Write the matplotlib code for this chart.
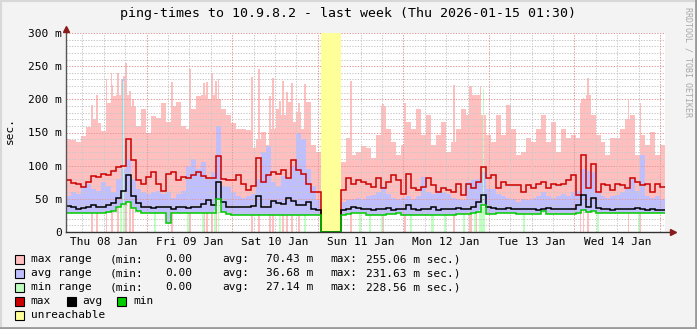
import numpy as np
import matplotlib
matplotlib.use("Agg")
import matplotlib.pyplot as plt
from matplotlib.patches import Rectangle
from matplotlib.lines import Line2D

plt.rcParams['font.family'] = ['DejaVu Sans Mono']

W, H = 697, 329

# one sample per 1.4 h, week starting Thu 08 Jan 01:30
red = [78, 74, 72, 68, 76, 85, 83, 88, 86, 92, 98, 100, 140, 108, 78, 73, 83, 91, 73, 62,
       88, 90, 78, 83, 81, 86, 91, 84, 82, 82,
       115, 80, 78, 78, 86, 73, 63, 70, 112, 76, 86, 91, 88, 93, 81, 108, 93, 88, 73, 61,
       61, 0, 0, 0, 0, 64, 81, 72, 78, 76,
       73, 68, 81, 66, 75, 86, 78, 58, 88, 66, 63, 68, 81, 71, 61, 66, 63, 61, 73, 56,
       73, 66, 76, 98, 81, 86, 66, 76, 71, 71,
       71, 61, 71, 66, 73, 76, 66, 73, 71, 73, 78, 86, 56, 116, 66, 103, 61, 73, 71, 63,
       73, 71, 66, 81, 76, 71, 73, 61, 73, 68]
black = [39, 37, 35, 36, 38, 40, 37, 38, 41, 44, 52, 62, 86, 55, 43, 38, 37, 36, 38, 37,
         38, 34, 37, 38, 36, 37, 38, 42, 48, 40,
         75, 45, 38, 37, 38, 38, 37, 39, 55, 38, 38, 47, 43, 42, 51, 46, 40, 40, 45, 34,
         33, 0, 0, 0, 0, 33, 35, 37, 36, 35,
         34, 33, 35, 34, 36, 33, 34, 35, 40, 34, 33, 34, 35, 37, 33, 34, 35, 34, 36, 34,
         35, 38, 45, 56, 38, 36, 35, 34, 36, 35,
         34, 34, 35, 34, 33, 34, 36, 35, 34, 35, 34, 35, 40, 56, 38, 52, 36, 34, 34, 33,
         34, 35, 34, 35, 36, 34, 33, 34, 33, 33]
green = [29, 29, 29, 29, 28, 29, 29, 29, 30, 31, 38, 42, 45, 36, 32, 29, 29, 28, 28, 28,
         14, 28, 28, 28, 28, 28, 28, 28, 28, 28,
         50, 30, 27, 26, 26, 26, 26, 26, 26, 26, 26, 26, 26, 26, 26, 26, 26, 26, 26, 26,
         26, 0, 0, 0, 0, 25, 27, 28, 28, 28,
         26, 26, 26, 26, 27, 27, 28, 26, 26, 26, 26, 26, 26, 26, 26, 26, 26, 26, 27, 27,
         27, 28, 30, 40, 27, 27, 28, 28, 28, 28,
         27, 27, 27, 27, 27, 31, 27, 27, 27, 27, 27, 27, 28, 33, 30, 32, 28, 28, 28, 28,
         28, 28, 28, 28, 28, 28, 28, 28, 28, 28]
avg_top = [55, 60, 58, 70, 72, 65, 62, 75, 70, 60, 80, 95, 110, 80, 65, 60, 58, 60, 62, 58,
           60, 52, 58, 62, 100, 110, 95, 105, 80, 90,
           160, 70, 68, 60, 55, 52, 54, 58, 80, 120, 130, 75, 70, 85, 82, 100, 150, 140, 95, 70,
           48, 0, 0, 0, 0, 45, 48, 50, 52, 50,
           55, 56, 60, 70, 58, 52, 50, 52, 55, 50, 55, 83, 60, 58, 62, 60, 58, 52, 50, 48,
           75, 78, 80, 90, 65, 65, 58, 55, 52, 50,
           45, 50, 48, 52, 55, 60, 55, 52, 55, 58, 55, 60, 62, 95, 92, 90, 60, 55, 52, 55,
           56, 60, 65, 80, 62, 116, 55, 52, 54, 50]
max_top = [140, 138, 135, 145, 158, 170, 165, 152, 195, 205, 206, 206, 206, 190, 160, 185, 150, 175, 172, 195,
           166, 190, 196, 160, 156, 186, 205, 206, 200, 206,
           200, 185, 176, 165, 156, 156, 154, 126, 140, 151, 131, 156, 186, 176, 196, 166, 181, 156, 196, 131,
           121, 0, 0, 0, 0, 106, 141, 116, 121, 130,
           126, 111, 146, 190, 156, 136, 116, 131, 166, 156, 186, 146, 176, 131, 146, 166, 121, 136, 156, 186,
           176, 206, 206, 176, 146, 136, 176, 146, 191, 156,
           116, 121, 141, 136, 156, 176, 136, 166, 121, 156, 141, 146, 141, 200, 206, 176, 146, 136, 116, 141,
           141, 156, 171, 176, 116, 146, 131, 151, 116, 131]
unreachable_idx = [51, 52, 53, 54]

# short peaks (hours since start, value in ms)
max_spike_h = [7.18, 8.58, 11.30, 12.70, 12.98, 14.47, 15.50, 16.15, 16.71, 17.83, 18.67,
               29.61, 34.66, 38.58, 39.42, 40.83, 41.95, 42.59,
               52.02, 53.98, 57.07, 57.91, 59.87, 60.71, 61.83, 63.23, 65.20, 66.88,
               79.78, 88.75, 94.92, 108.66, 113.15, 113.57, 115.11, 116.15,
               144.20, 145.12, 146.25, 157.74, 161.10]
max_spike_v = [192, 207, 231, 240, 221, 240, 231, 235, 255, 212, 200,
               226, 246, 224, 226, 240, 227, 231,
               234, 246, 205, 232, 197, 228, 211, 224, 195, 223,
               228, 193, 194, 221, 220, 220, 190, 220,
               195, 202, 232, 199, 195]
avg_spike_h = [15.87]
avg_spike_v = [231]
min_spike_h = [16.1, 116.9]
min_spike_v = [228, 215]
min_dip_h = [15.3, 16.2, 24.8, 34.1, 38.3, 41.6, 42.7, 59.9, 66.9, 82.3, 85.1, 88.5,
             96.6, 102.6, 103.0, 106.2, 111.5, 114.6, 116.0, 116.6, 117.2, 128.3, 149.1, 160.6]

day_labels = ['Thu 08 Jan', 'Fri 09 Jan', 'Sat 10 Jan', 'Sun 11 Jan',
              'Mon 12 Jan', 'Tue 13 Jan', 'Wed 14 Jan']
legend_names = ['max range', 'avg range', 'min range']
legend_min = ['0.00', '0.00', '0.00']
legend_avg = ['70.43 m', '36.68 m', '27.14 m']
legend_max = ['255.06 m', '231.63 m', '228.56 m']

c_pink, c_blue, c_lgreen = '#ffbfbf', '#bfbfff', '#bfffbf'
c_red, c_green, c_yellow = '#cc0000', '#00cc00', '#ffff99'

n = len(red)
edges = np.linspace(0, 168, n + 1)
centers = (edges[:-1] + edges[1:]) / 2
green_a = np.array(green, float)

fig = plt.figure(figsize=(W / 100, H / 100), dpi=100, facecolor='#f3f3f3')
ax = fig.add_axes([66.4 / W, 97 / H, 599 / W, 199 / H])
ax.set_facecolor('white')
ax.set_xlim(0, 168)
ax.set_ylim(0, 300)
for s in ax.spines.values():
    s.set_visible(False)

# areas
ax.stairs(max_top, edges, baseline=green_a, fill=True, color=c_pink, zorder=1)
ax.bar(max_spike_h, max_spike_v, width=0.38, color=c_pink, zorder=1, linewidth=0)
ax.stairs(avg_top, edges, baseline=green_a, fill=True, color=c_blue, zorder=1.2)
base = np.interp(avg_spike_h, centers, green_a)
ax.bar(avg_spike_h, np.array(avg_spike_v) - base, bottom=base, width=0.3, color=c_blue, zorder=1.2, linewidth=0)
base = np.interp(min_spike_h, centers, green_a)
ax.bar(min_spike_h, np.array(min_spike_v) - base, bottom=base, width=0.3, color=c_lgreen, zorder=1.4, linewidth=0)
ax.bar(min_dip_h, np.interp(min_dip_h, centers, green_a), width=0.45, color=c_lgreen, zorder=1.4, linewidth=0)

# grid on top of the areas
dot = (0, (1.4, 1.4))
minor_y = [v for v in range(10, 300, 10) if v % 50]
ax.hlines(minor_y, 0, 168, colors='#c8c8c8', lw=0.7, linestyles=dot, zorder=2)
ax.hlines(range(50, 301, 50), 0, 168, colors='#e09a9a', lw=0.7, linestyles=dot, zorder=2)
minor_x = [h for h in np.arange(4.5, 168, 6) if (h - 22.5) % 24]
ax.vlines(minor_x, 0, 300, colors='#c8c8c8', lw=0.7, linestyles=dot, zorder=2)
ax.vlines(np.arange(22.5, 168, 24), 0, 300, colors='#e09a9a', lw=0.7, linestyles=dot, zorder=2)

# unreachable
for i in unreachable_idx:
    ax.axvspan(edges[i], edges[i + 1], color=c_yellow, lw=0, zorder=2.5)

# lines
ax.stairs(red, edges, baseline=None, color=c_red, lw=1.1, zorder=3)
ax.stairs(black, edges, baseline=None, color='black', lw=1.1, zorder=3.1)
ax.stairs(green, edges, baseline=None, color=c_green, lw=1.1, zorder=3.2)

# axes with arrows
ax.plot([0, 0], [0, 1.02], transform=ax.transAxes, color='#555555', lw=1, clip_on=False, zorder=5)
ax.plot([0, 1.012], [0, 0], transform=ax.transAxes, color='#333333', lw=1, clip_on=False, zorder=5)
ax.plot([0], [1.02], transform=ax.transAxes, marker='^', color='#8b1a1a', ms=4, clip_on=False, zorder=6)
ax.plot([1.012], [0], transform=ax.transAxes, marker='>', color='#8b1a1a', ms=4, clip_on=False, zorder=6)

ax.set_yticks(range(0, 301, 50))
ax.set_yticklabels(['0'] + ['%d m' % v for v in range(50, 301, 50)])
ax.set_xticks(np.arange(10.5, 168, 24))
ax.set_xticklabels(day_labels)
ax.tick_params(axis='both', length=0, labelsize=8, colors='black')
ax.tick_params(axis='y', pad=3.5)
ax.tick_params(axis='x', pad=3.5)


def fx(x):
    return x / W


def fy(y):
    return 1 - y / H


fig.text(fx(348), fy(13), 'ping-times to 10.9.8.2 - last week (Thu 2026-01-15 01:30)',
         ha='center', va='center', fontsize=9.5)
fig.text(fx(10), fy(130), 'sec.', rotation=90, ha='center', va='center', fontsize=8)
fig.text(fx(688), fy(62), 'RRDTOOL / TOBI OETIKER', rotation=270, ha='center', va='center',
         fontsize=6, color='#a8a8a8')

rows = [259.3, 273.3, 287.3, 301.3, 315.3]


def box(x, y, color):
    fig.patches.append(Rectangle((fx(x), fy(y + 4.5)), 9 / W, 9 / H, transform=fig.transFigure,
                                 facecolor=color, edgecolor='black', lw=0.8))


for k in range(3):
    y = rows[k]
    box(15, y, [c_pink, c_blue, c_lgreen][k])
    for x, s in [(30.7, legend_names[k]), (110, '(min:'), (165.7, legend_min[k]), (222.7, 'avg:'),
                 (265.7, legend_avg[k]), (330.7, 'max:'), (365.7, legend_max[k] + ' sec.)')]:
        fig.text(fx(x), fy(y), s, ha='left', va='center', fontsize=8)
for x, c, s in [(15, c_red, 'max'), (66.7, 'black', 'avg'), (117.3, c_green, 'min')]:
    box(x, rows[3], c)
    fig.text(fx(x + 15.7), fy(rows[3]), s, ha='left', va='center', fontsize=8)
box(15, rows[4], c_yellow)
fig.text(fx(30.7), fy(rows[4]), 'unreachable', ha='left', va='center', fontsize=8)

# canvas shading
fig.add_artist(Line2D([0, 1], [fy(0.5), fy(0.5)], color='#d8d8d8', lw=1.5))
fig.add_artist(Line2D([fx(0.5), fx(0.5)], [0, 1], color='#d8d8d8', lw=1.5))
fig.add_artist(Line2D([fx(696), fx(696)], [0, 1], color='#999999', lw=2))
fig.add_artist(Line2D([0, 1], [fy(328), fy(328)], color='#999999', lw=2))

fig.savefig('out.png', dpi=100, facecolor=fig.get_facecolor())
